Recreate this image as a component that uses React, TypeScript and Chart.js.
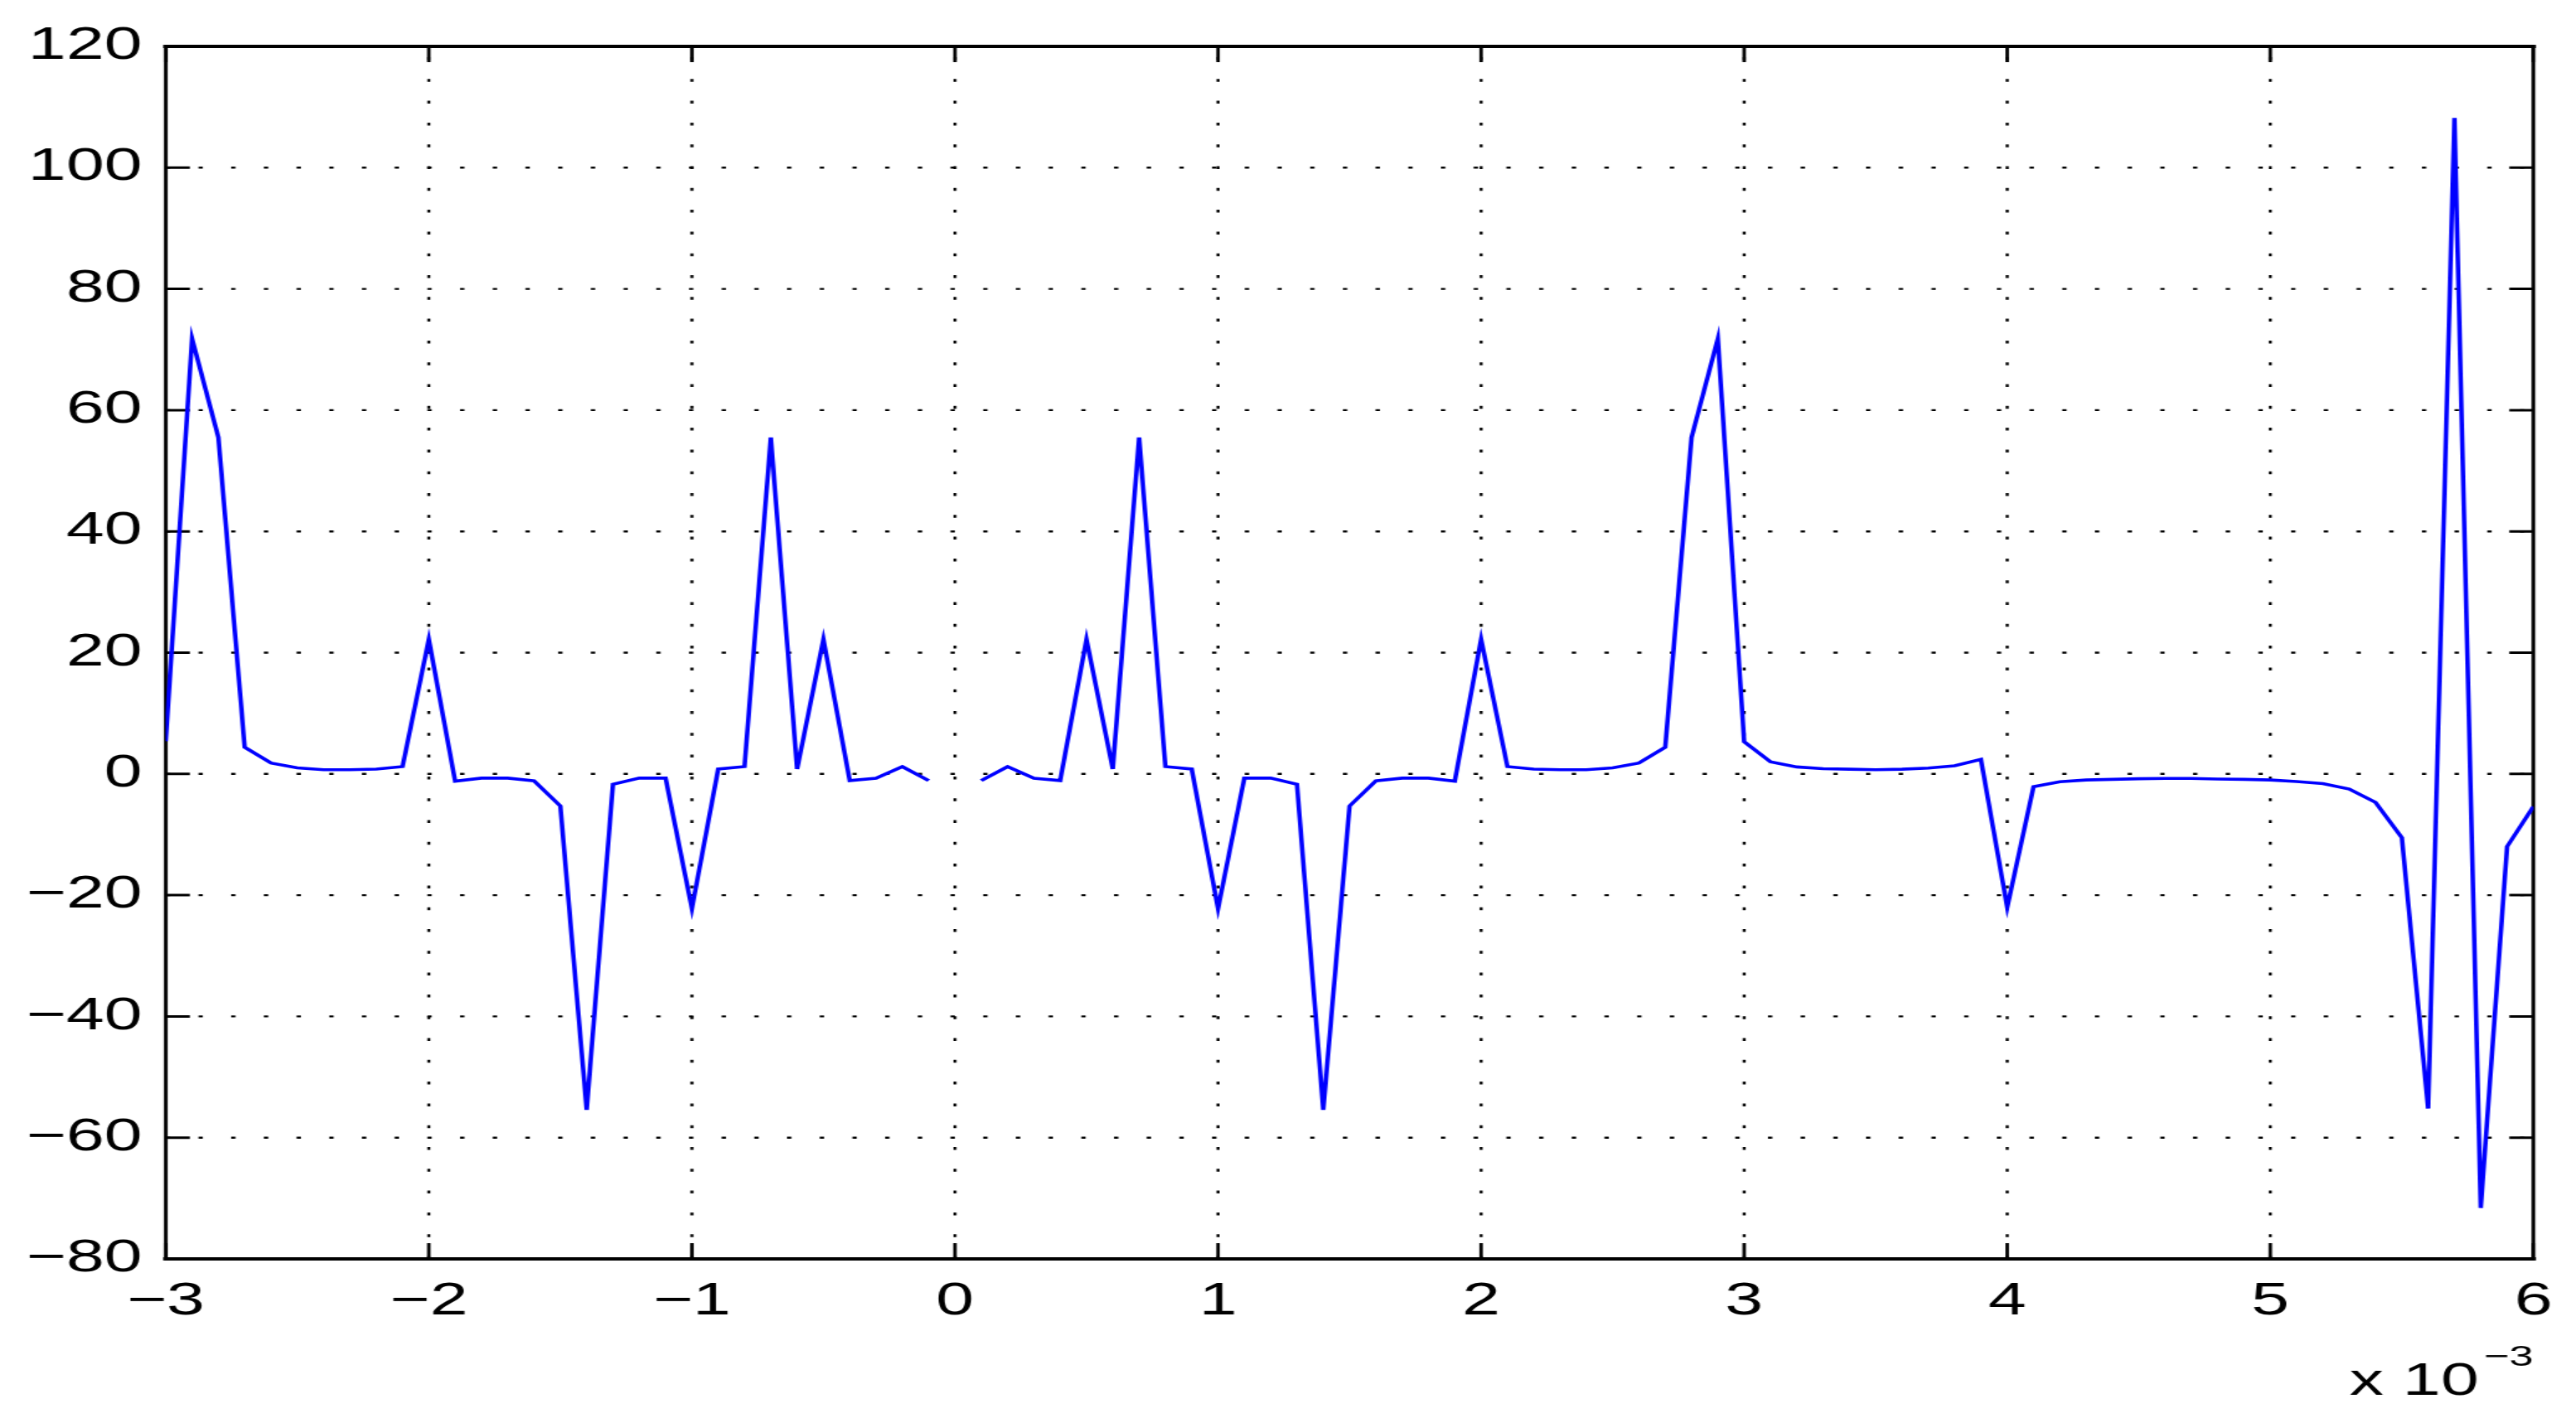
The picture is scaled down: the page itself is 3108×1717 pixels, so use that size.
import React, { useEffect, useRef } from "react";
import { Chart, registerables } from "chart.js";

Chart.register(...registerables);

// ---- data (x in units of 1e-3) ----
const xValues: number[] = [
  -3.0, -2.9, -2.8, -2.7, -2.6, -2.5, -2.4, -2.3, -2.2, -2.1,
  -2.0, -1.9, -1.8, -1.7, -1.6, -1.5, -1.4, -1.3, -1.2, -1.1,
  -1.0, -0.9, -0.8, -0.7, -0.6, -0.5, -0.4, -0.3, -0.2, -0.1,
  0.0, 0.1, 0.2, 0.3, 0.4, 0.5, 0.6, 0.7, 0.8, 0.9,
  1.0, 1.1, 1.2, 1.3, 1.4, 1.5, 1.6, 1.7, 1.8, 1.9,
  2.0, 2.1, 2.2, 2.3, 2.4, 2.5, 2.6, 2.7, 2.8, 2.9,
  3.0, 3.1, 3.2, 3.3, 3.4, 3.5, 3.6, 3.7, 3.8, 3.9,
  4.0, 4.1, 4.2, 4.3, 4.4, 4.5, 4.6, 4.7, 4.8, 4.9,
  5.0, 5.1, 5.2, 5.3, 5.4, 5.5, 5.6, 5.7, 5.8, 5.9,
  6.0,
];

const yValues: (number | null)[] = [
  5.4, 71.8, 55.5, 4.4, 1.8, 1.0, 0.7, 0.7, 0.8, 1.2,
  22.2, -1.2, -0.7, -0.7, -1.15, -5.3, -55.4, -1.7, -0.7, -0.7,
  -22.2, 0.8, 1.2, 55.5, 0.8, 22.2, -1.1, -0.7, 1.2, -1.1,
  null, -1.1, 1.2, -0.7, -1.1, 22.2, 0.8, 55.5, 1.2, 0.8,
  -22.2, -0.7, -0.7, -1.7, -55.4, -5.3, -1.15, -0.7, -0.7, -1.2,
  22.2, 1.2, 0.8, 0.7, 0.7, 1.0, 1.8, 4.4, 55.5, 71.8,
  5.3, 2.0, 1.15, 0.86, 0.77, 0.7, 0.77, 0.96, 1.34, 2.4,
  -22.0, -2.1, -1.3, -1.0, -0.9, -0.8, -0.75, -0.75, -0.85, -0.9,
  -1.0, -1.25, -1.6, -2.5, -4.7, -10.5, -55.2, 108.2, -71.6, -12.0,
  -5.4,
];

const xRange = [-3, 6];
const xTickStep = 1;
const yRange = [-80, 120];
const yTickStep = 20;
const exponentBase = "x 10";
const exponentPower = "\u22123";

// ---- layout (internal canvas px; canvas is stretched 1.5x horizontally) ----
const CSS_W = 3108;
const CSS_H = 1717;
const STRETCH = 1.5;
const CANVAS_W = Math.round(CSS_W / STRETCH);
const CANVAS_H = CSS_H;
const FONT = '"Liberation Sans", Arial, Helvetica, sans-serif';

const fmt = (v: number) => {
  const r = Math.round(v * 1000) / 1000;
  return r < 0 ? "\u2212" + String(-r) : String(r);
};

const framePlugin = {
  id: "matlabFrame",
  beforeDatasetsDraw(chart: any) {
    const { ctx, chartArea: a, scales } = chart;
    const xs = scales.x;
    const ys = scales.y;
    ctx.save();
    // dotted grid
    ctx.strokeStyle = "#000";
    ctx.lineWidth = 2.4;
    ctx.setLineDash([3.5, 22.8]);
    xs.ticks.forEach((t: any) => {
      if (t.value <= xs.min || t.value >= xs.max) return;
      const px = xs.getPixelForValue(t.value);
      ctx.beginPath();
      ctx.moveTo(px, a.bottom);
      ctx.lineTo(px, a.top);
      ctx.stroke();
    });
    ys.ticks.forEach((t: any) => {
      if (t.value <= ys.min || t.value >= ys.max) return;
      const py = ys.getPixelForValue(t.value);
      ctx.beginPath();
      ctx.moveTo(a.left, py);
      ctx.lineTo(a.right, py);
      ctx.stroke();
    });
    ctx.setLineDash([]);
    // inward ticks
    ctx.lineWidth = 2.8;
    const tlx = 19;
    const tly = 19.4;
    xs.ticks.forEach((t: any) => {
      const px = xs.getPixelForValue(t.value);
      ctx.beginPath();
      ctx.moveTo(px, a.bottom);
      ctx.lineTo(px, a.bottom - tlx);
      ctx.moveTo(px, a.top);
      ctx.lineTo(px, a.top + tlx);
      ctx.stroke();
    });
    ctx.lineWidth = 3;
    ys.ticks.forEach((t: any) => {
      const py = ys.getPixelForValue(t.value);
      ctx.beginPath();
      ctx.moveTo(a.left, py);
      ctx.lineTo(a.left + tly, py);
      ctx.moveTo(a.right, py);
      ctx.lineTo(a.right - tly, py);
      ctx.stroke();
    });
    // box
    ctx.lineCap = "square";
    ctx.lineWidth = 4;
    ctx.beginPath();
    ctx.moveTo(a.left, a.top);
    ctx.lineTo(a.right, a.top);
    ctx.moveTo(a.left, a.bottom);
    ctx.lineTo(a.right, a.bottom);
    ctx.stroke();
    ctx.lineWidth = 3;
    ctx.beginPath();
    ctx.moveTo(a.left, a.top);
    ctx.lineTo(a.left, a.bottom);
    ctx.moveTo(a.right, a.top);
    ctx.lineTo(a.right, a.bottom);
    ctx.stroke();
    ctx.restore();
  },
  afterDraw(chart: any) {
    const { ctx, chartArea: a } = chart;
    ctx.save();
    ctx.fillStyle = "#000";
    ctx.textBaseline = "alphabetic";
    ctx.textAlign = "right";
    ctx.font = `35px ${FONT}`;
    const pw = ctx.measureText(exponentPower).width;
    ctx.fillText(exponentPower, a.right, a.bottom + 129);
    ctx.font = `55px ${FONT}`;
    ctx.fillText(exponentBase, a.right - pw - 4, a.bottom + 164);
    ctx.restore();
  },
};

export default function App() {
  const canvasRef = useRef<HTMLCanvasElement | null>(null);

  useEffect(() => {
    const canvas = canvasRef.current;
    if (!canvas) return;
    const points = xValues.map((x, i) => ({ x, y: yValues[i] }));
    const chart = new Chart(canvas, {
      type: "line",
      data: {
        datasets: [
          {
            data: points as any,
            borderColor: "#0000ff",
            borderWidth: 3.6,
            pointRadius: 0,
            pointHoverRadius: 0,
            tension: 0,
            fill: false,
            spanGaps: false,
          },
        ],
      },
      options: {
        animation: false,
        responsive: false,
        devicePixelRatio: 1,
        events: [],
        layout: { padding: { top: 56, right: CANVAS_W - 2040, bottom: 0, left: 0 } },
        plugins: {
          legend: { display: false },
          tooltip: { enabled: false },
          title: { display: false },
        },
        scales: {
          x: {
            type: "linear",
            min: xRange[0],
            max: xRange[1],
            grid: { display: false, drawTicks: false },
            border: { display: false },
            ticks: {
              stepSize: xTickStep,
              autoSkip: false,
              maxRotation: 0,
              padding: 19,
              color: "#000",
              font: { family: FONT, size: 55 },
              callback: (v: any) => fmt(Number(v)),
            },
            afterFit: (s: any) => {
              s.height = CANVAS_H - 1519;
            },
          },
          y: {
            type: "linear",
            min: yRange[0],
            max: yRange[1],
            grid: { display: false, drawTicks: false },
            border: { display: false },
            ticks: {
              stepSize: yTickStep,
              autoSkip: false,
              padding: 19,
              color: "#000",
              font: { family: FONT, size: 55 },
              callback: (v: any) => fmt(Number(v)),
            },
            afterFit: (s: any) => {
              s.width = 200 / STRETCH;
            },
          },
        },
      },
      plugins: [framePlugin],
    });
    return () => chart.destroy();
  }, []);

  return (
    <div
      style={{
        position: "fixed",
        left: 0,
        top: 0,
        width: CSS_W,
        height: CSS_H,
        background: "#fff",
        overflow: "hidden",
      }}
    >
      <canvas
        ref={canvasRef}
        width={CANVAS_W}
        height={CANVAS_H}
        style={{ width: `${CSS_W}px`, height: `${CSS_H}px`, display: "block" }}
      />
    </div>
  );
}
